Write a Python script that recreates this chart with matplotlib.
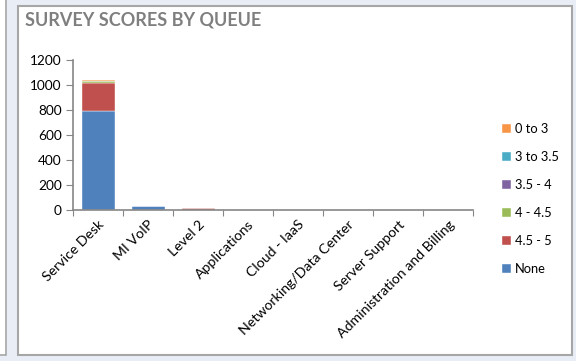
import matplotlib.pyplot as plt
import numpy as np
from matplotlib.patches import Rectangle

queues = ['Service Desk', 'MI VoIP', 'Level 2', 'Applications', 'Cloud - IaaS',
          'Networking/Data Center', 'Server Support', 'Administration and Billing']

# score buckets, stacked bottom to top
none_vals = [790, 30, 2, 0, 0, 0, 0, 0]
s45_5 = [230, 0, 12, 0, 0, 0, 0, 0]
s4_45 = [10, 0, 0, 0, 0, 0, 0, 0]
s35_4 = [3, 0, 0, 0, 0, 0, 0, 0]
s3_35 = [2, 0, 0, 0, 0, 0, 0, 0]
s0_3 = [8, 0, 0, 0, 0, 0, 0, 0]

series = [('None', none_vals, '#4F81BD'),
          ('4.5 - 5', s45_5, '#C0504D'),
          ('4 - 4.5', s4_45, '#9BBB59'),
          ('3.5 - 4', s35_4, '#8064A2'),
          ('3 to 3.5', s3_35, '#4BACC6'),
          ('0 to 3', s0_3, '#F79646')]

plt.rcParams['font.family'] = ['Lato', 'DejaVu Sans']

fig = plt.figure(figsize=(5.76, 3.61), dpi=100, facecolor='#E9EEF6')
W, H = 576, 361

# chart panels (behind the axes)
fig.patches.append(Rectangle((-10 / W, 6 / H), 16 / W, 1.2, transform=fig.transFigure,
                             facecolor='white', edgecolor='#A6A6A6', lw=1.2, zorder=-2))
fig.patches.append(Rectangle((18 / W, 6 / H), 554 / W, 349 / H, transform=fig.transFigure,
                             facecolor='white', edgecolor='#A6A6A6', lw=1.5, zorder=-2))

ax = fig.add_axes([73 / W, 1 - 210 / H, 400 / W, 150 / H])
ax.set_facecolor('none')

x = np.arange(len(queues))
bottom = np.zeros(len(queues))
handles = []
for name, vals, color in series:
    b = ax.bar(x, vals, width=0.66, bottom=bottom, color=color, label=name,
               edgecolor='white', linewidth=0.3)
    bottom += np.array(vals)
    handles.append(b)

ax.set_xlim(-0.5, len(queues) - 0.5)
ax.set_ylim(0, 1200)
ax.set_yticks(range(0, 1201, 200))
ax.tick_params(axis='y', labelsize=9.8, length=5, color='#868686', pad=3)

# x ticks sit between categories, labels at category centres
ax.set_xticks(np.arange(len(queues) + 1) - 0.5)
ax.set_xticklabels([])
ax.tick_params(axis='x', length=4, color='#868686', direction='out')
ax.set_xticks(x, minor=True)
ax.set_xticklabels(queues, minor=True, rotation=45, ha='right', va='top',
                   rotation_mode='anchor', fontsize=10.2)
ax.tick_params(axis='x', which='minor', length=0, pad=6)

for s in ['top', 'right']:
    ax.spines[s].set_visible(False)
for s in ['left', 'bottom']:
    ax.spines[s].set_color('#868686')
    ax.spines[s].set_linewidth(1.2)

fig.text(25 / W, 1 - 20 / H, 'SURVEY SCORES BY QUEUE', fontsize=13, fontweight='bold',
         color='#7F7F7F', va='center', ha='left')

ax.legend(handles[::-1], [s[0] for s in series][::-1], loc='center left',
          bbox_to_anchor=(490 / W, 1 - 199 / H), bbox_transform=fig.transFigure,
          frameon=False, fontsize=9.3, handlelength=0.7, handleheight=0.7,
          handletextpad=0.3, labelspacing=1.25)

fig.savefig('out.png', dpi=100, facecolor=fig.get_facecolor())
